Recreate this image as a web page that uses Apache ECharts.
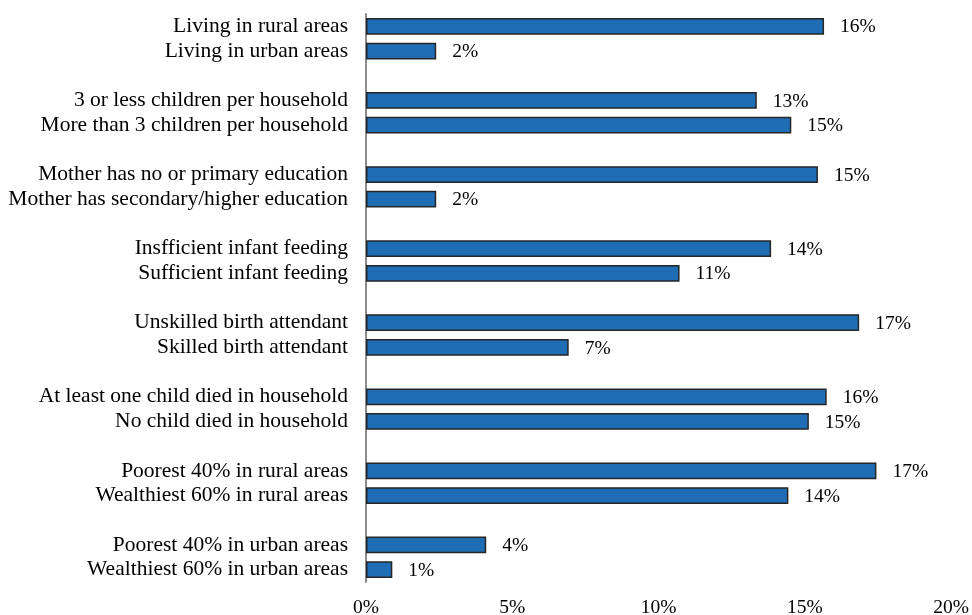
<!DOCTYPE html>
<html>
<head>
<meta charset="utf-8">
<script src="https://cdn.jsdelivr.net/npm/echarts@6/dist/echarts.min.js"></script>
<style>
  html, body { margin: 0; padding: 0; background: #ffffff; }
  #chart { width: 972px; height: 615px; }
</style>
</head>
<body>
<div id="chart"></div>
<script>
// Row labels, top to bottom; empty strings separate the pairs
const categories = [
  'Living in rural areas', 'Living in urban areas', '',
  '3 or less children per household', 'More than 3 children per household', '',
  'Mother has no or primary education', 'Mother has secondary/higher education', '',
  'Insfficient infant feeding', 'Sufficient infant feeding', '',
  'Unskilled birth attendant', 'Skilled birth attendant', '',
  'At least one child died in household', 'No child died in household', '',
  'Poorest 40% in rural areas', 'Wealthiest 60% in rural areas', '',
  'Poorest 40% in urban areas', 'Wealthiest 60% in urban areas'
];

// Share (%) for each row; null on the separator rows
const values = [
  15.66, 2.40, null,
  13.36, 14.54, null,
  15.45, 2.40, null,
  13.85, 10.72, null,
  16.86, 6.93, null,
  15.75, 15.14, null,
  17.45, 14.44, null,
  4.11, 0.90
];

const xTicks = [0, 5, 10, 15, 20];

const font = 'Liberation Serif, Times New Roman, serif';

const chart = echarts.init(document.getElementById('chart'), null, { renderer: 'canvas' });
chart.setOption({
  animation: false,
  backgroundColor: '#ffffff',
  grid: {
    left: 366, right: 21, top: 14, bottom: 33,
    containLabel: false,
    outerBoundsMode: 'none'
  },
  xAxis: {
    type: 'value',
    min: xTicks[0],
    max: xTicks[xTicks.length - 1],
    interval: xTicks[1] - xTicks[0],
    axisLine: { show: false },
    axisTick: { show: false },
    splitLine: { show: false },
    axisLabel: {
      formatter: v => v + '%',
      color: '#000',
      fontFamily: font,
      fontSize: 19.5,
      margin: 16
    }
  },
  yAxis: {
    type: 'category',
    inverse: true,
    data: categories,
    axisLine: { show: true, lineStyle: { color: '#8c8c8c', width: 2 } },
    axisTick: { show: false },
    splitLine: { show: false },
    axisLabel: {
      color: '#000',
      fontFamily: font,
      fontSize: 21.5,
      margin: 18,
      interval: 0
    }
  },
  series: [{
    type: 'bar',
    data: values,
    barCategoryGap: '32%',
    itemStyle: { color: '#1f6db5', borderColor: '#262626', borderWidth: 1.5 },
    label: {
      show: true,
      position: 'right',
      distance: 16,
      offset: [0, 1],
      formatter: p => Math.round(p.value) + '%',
      color: '#000',
      fontFamily: font,
      fontSize: 19.5
    }
  }]
});
</script>
</body>
</html>
